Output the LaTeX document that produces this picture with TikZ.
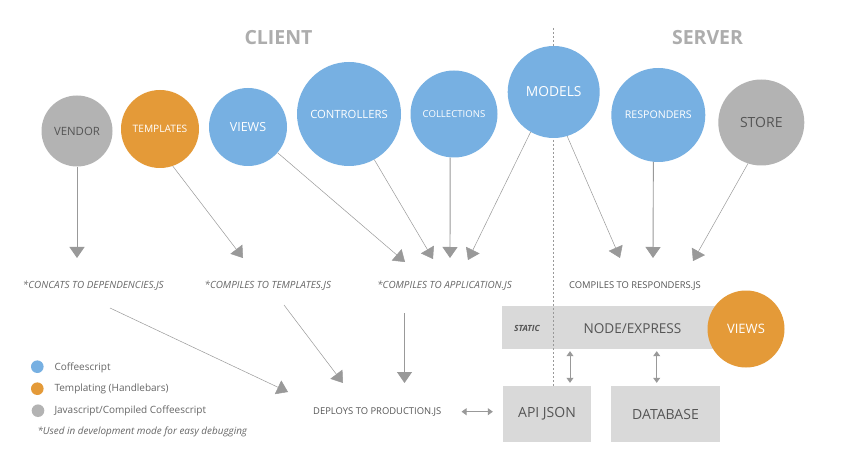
\documentclass[tikz,border=0pt]{standalone}
\usepackage{fontspec}
\setmainfont{Open Sans}
\usepackage{tikz}
\usetikzlibrary{arrows.meta}

\definecolor{cblue}{HTML}{77B0E2}
\definecolor{corange}{HTML}{E49A38}
\definecolor{cgray}{HTML}{B3B3B3}
\definecolor{cbox}{HTML}{D9D9D9}
\definecolor{ctext}{HTML}{666666}
\definecolor{cdark}{HTML}{555555}
\definecolor{carrow}{HTML}{999999}
\definecolor{ctitle}{HTML}{ADADAD}

\newcommand{\fsz}[1]{\fontsize{#1}{#1}\selectfont}

\begin{document}
\begin{tikzpicture}[x=1pt, y=-1pt,
  bubble/.style={circle, inner sep=0, text=white},
  lbl/.style={inner sep=0, text=ctext},
  box/.style={fill=cbox, inner sep=0, text=cdark},
  big/.style={draw=carrow, line width=0.5pt, -{Triangle[length=11pt, width=15pt]}},
  bigv/.style={big, line width=0.9pt},
  dbl/.style={draw=carrow, line width=0.8pt, {Triangle[length=5pt, width=7pt]}-{Triangle[length=5pt, width=7pt]}}]

\useasboundingbox[fill=white] (0,0) rectangle (841,473);

% titles
\node[lbl, text=ctitle] (client) at (278.5,38) {\fsz{19.5}\bfseries CLIENT};
\node[lbl, text=ctitle] (server) at (707.5,38) {\fsz{19.5}\bfseries SERVER};

% boxes
\node[box, minimum width=243pt, minimum height=43pt] (nodebox) at (623.5,327.5) {};
\node[lbl, text=cdark] (static) at (527,328.3) {\fsz{8.5}\bfseries\itshape STATIC};
\node[lbl, text=cdark] (express) at (632.5,328.3) {\fsz{13.6}NODE/EXPRESS};
\node[box, minimum width=88pt, minimum height=56pt] (api) at (547,414) {\fsz{14}API JSON};
\node[box, minimum width=109pt, minimum height=56pt] (db) at (665.5,414) {\fsz{14}DATABASE};

% client / server split
\coordinate (top) at (553.3,28);
\draw[carrow, line width=0.6pt, dash pattern=on 2pt off 2pt] (top) -- (top |- api.north);

% bubbles
\node[bubble, fill=cgray, text=cdark, minimum size=71pt] (vendor) at (77,131) {\fsz{11.4}VENDOR};
\node[bubble, fill=corange, minimum size=78pt] (templates) at (160,129) {\fsz{10.2}TEMPLATES};
\node[bubble, fill=cblue, minimum size=78pt] (views) at (248,127) {\fsz{12.5}VIEWS};
\node[bubble, fill=cblue, minimum size=104pt] (controllers) at (349,114) {\fsz{11.3}CONTROLLERS};
\node[bubble, fill=cblue, minimum size=87pt] (collections) at (454,114) {\fsz{9.6}COLLECTIONS};
\node[bubble, fill=cblue, minimum size=92pt] (models) at (553.7,92) {\fsz{13.8}MODELS};
\node[bubble, fill=cblue, minimum size=94pt] (responders) at (658.3,115) {\fsz{10.6}RESPONDERS};
\node[bubble, fill=cgray, text=cdark, minimum size=86pt] (store) at (761.3,122.5) {\fsz{14}STORE};
\node[bubble, fill=corange, minimum size=77pt] (srvviews) at (746,329) {\fsz{13}VIEWS};

% build outputs
\node[lbl] (deps) at (93.3,285.7) {\fsz{9.9}\itshape *CONCATS TO DEPENDENCIES.JS};
\node[lbl] (tpljs) at (267.8,285.7) {\fsz{9.9}\itshape *COMPILES TO TEMPLATES.JS};
\node[lbl] (appjs) at (444.5,285.7) {\fsz{9.9}\itshape *COMPILES TO APPLICATION.JS};
\node[lbl, text=cdark] (respjs) at (635,285.7) {\fsz{9.4}COMPILES TO RESPONDERS.JS};
\node[lbl, text=cdark] (deploy) at (377.3,411.7) {\fsz{9.4}DEPLOYS TO PRODUCTION.JS};

% arrow tips
\coordinate (t1) at (77,258);
\coordinate (t2) at (243,258);
\coordinate (t3) at (405,262);
\coordinate (t4) at (433,259);
\coordinate (t5) at (450,258);
\coordinate (t6) at (468,260);
\coordinate (t7) at (620,258);
\coordinate (t8) at (653,258);
\coordinate (t9) at (693,261);

\draw[bigv] (vendor.south) -- (t1);
\draw[big] (templates.289) -- (t2);
\draw[big] (views.319) -- (t3);
\draw[big] (controllers.299) -- (t4);
\draw[bigv] (collections.265) -- (t5);
\draw[big] (models.240) -- (t6);
\draw[big] (models.287) -- (t7);
\draw[bigv] (responders.264) -- (t8);
\draw[big] (store.252) -- (t9);

% to production
\coordinate (s1) at (110,308);
\coordinate (s2) at (284,305);
\coordinate (s3) at (404.5,313);
\coordinate (d1) at (288,392);
\coordinate (d2) at (343,383);
\coordinate (d3) at (404.5,383);

\draw[big] (s1) -- (d1);
\draw[big] (s2) -- (d2);
\draw[bigv] (s3) -- (d3);

% server links
\coordinate (x1) at (570,0);
\coordinate (x2) at (656.7,0);
\draw[dbl, shorten <=2pt, shorten >=3pt] (nodebox.south -| x1) -- (api.north -| x1);
\draw[dbl, shorten <=2pt, shorten >=3pt] (nodebox.south -| x2) -- (db.north -| x2);
\draw[dbl, shorten <=20pt, shorten >=10pt] (deploy.east) -- (deploy.east -| api.west);

% legend
\node[circle, fill=cblue, minimum size=12.6pt, inner sep=0] (kblue) at (37.3,366.7) {};
\node[circle, fill=corange, minimum size=12.6pt, inner sep=0] (korange) at (37.3,388.7) {};
\node[circle, fill=cgray, minimum size=12.6pt, inner sep=0] (kgray) at (38,410.7) {};
\node[lbl, anchor=west] (lblue) at (54.3,367.7) {\fsz{10}Coffeescript};
\node[lbl, anchor=west] (lorange) at (54.3,389) {\fsz{10}Templating (Handlebars)};
\node[lbl, anchor=west] (lgray) at (54.3,411) {\fsz{10}Javascript/Compiled Coffeescript};
\node[lbl, anchor=west] (note) at (37.3,432.3) {\fsz{9.9}\itshape *Used in development mode for easy debugging};

\end{tikzpicture}
\end{document}
